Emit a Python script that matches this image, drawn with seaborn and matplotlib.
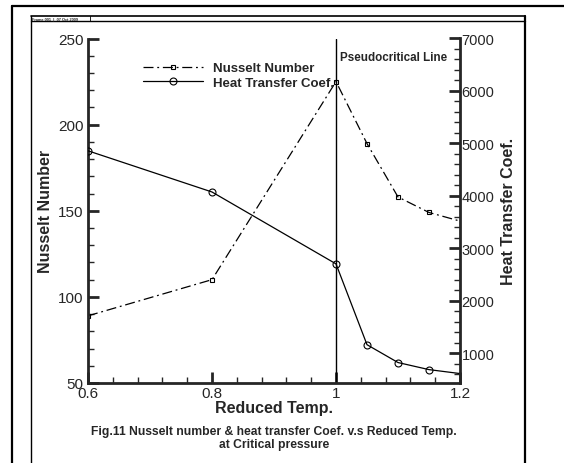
import matplotlib
matplotlib.use("Agg")
import matplotlib.pyplot as plt
from matplotlib.lines import Line2D
from matplotlib.ticker import MultipleLocator
import seaborn as sns
import pandas as pd

sns.set_style("ticks")
plt.rcParams['font.family'] = ['Liberation Sans', 'DejaVu Sans']

reduced_temp = [0.6, 0.8, 1.0, 1.05, 1.1, 1.15, 1.2]
nusselt = [89, 110, 225, 189, 158, 149, 144]
heat_coef = [4860, 4075, 2705, 1165, 825, 690, 615]

df = pd.DataFrame({"Tr": reduced_temp, "Nu": nusselt, "h": heat_coef})
marked = list(range(len(reduced_temp) - 1))

fig = plt.figure(figsize=(5.64, 4.64), dpi=100)
W, H = 564, 464
def fx(x): return x / W
def fy(y): return 1 - y / H

# decorative frames
fig.add_artist(Line2D([fx(12), fx(12)], [fy(7), 0], color='black', lw=1.6, transform=fig.transFigure))
fig.add_artist(Line2D([fx(12), 1], [fy(7), fy(7)], color='black', lw=1.6, transform=fig.transFigure))
fig.add_artist(Line2D([fx(31), fx(31)], [fy(17), 0], color='black', lw=1.0, transform=fig.transFigure))
fig.add_artist(Line2D([fx(525), fx(525)], [fy(17), 0], color='black', lw=1.6, transform=fig.transFigure))
fig.add_artist(Line2D([fx(31), fx(525)], [fy(17), fy(17)], color='black', lw=1.2, transform=fig.transFigure))
fig.add_artist(Line2D([fx(31), fx(525)], [fy(22), fy(22)], color='black', lw=1.0, transform=fig.transFigure))
fig.add_artist(Line2D([fx(90), fx(90)], [fy(17), fy(22)], color='black', lw=0.6, transform=fig.transFigure))
fig.text(fx(32), fy(19.6), "Frame 001  |  07 Oct 2009", fontsize=2.8, fontweight='bold', va='center', ha='left')

ax = fig.add_axes([fx(88), fy(384), fx(460) - fx(88), fy(39.5) - fy(384)])
ax2 = ax.twinx()

dashdot = (0, (8, 3, 1.5, 3))
sns.lineplot(data=df, x="Tr", y="Nu", ax=ax, color='black', lw=0.9,
             marker='s', markersize=3.5, markerfacecolor='none', markeredgecolor='black',
             markeredgewidth=0.8, markevery=marked, linestyle=dashdot, legend=False)
sns.lineplot(data=df, x="Tr", y="h", ax=ax2, color='black', lw=0.9,
             marker='o', markersize=5, markerfacecolor='none', markeredgecolor='black',
             markeredgewidth=0.8, markevery=marked, linestyle='-', legend=False)

ax.axvline(1.0, color='black', lw=1.0)
ax.text(1.006, 239.5, "Pseudocritical Line", fontsize=8.4, fontweight='bold', ha='left', va='center')

ax.set_xlim(0.6, 1.2)
ax.set_ylim(50, 250)
ax2.set_ylim(435, 7000)

ax.xaxis.set_major_locator(MultipleLocator(0.2))
ax.xaxis.set_minor_locator(MultipleLocator(0.04))
ax.yaxis.set_major_locator(MultipleLocator(50))
ax.yaxis.set_minor_locator(MultipleLocator(10))
ax2.yaxis.set_major_locator(MultipleLocator(1000))
ax2.yaxis.set_minor_locator(MultipleLocator(200))
ax.xaxis.set_major_formatter(plt.FuncFormatter(lambda v, p: f"{v:g}"))

for a in (ax, ax2):
    a.spines['top'].set_visible(False)
    for s in a.spines.values():
        s.set_linewidth(2.0)
ax.spines['right'].set_visible(False)
ax2.spines['left'].set_visible(False)
ax2.spines['bottom'].set_visible(False)

ax.tick_params(axis='both', which='major', direction='in', length=8, width=2, labelsize=11, pad=3)
ax.tick_params(axis='both', which='minor', direction='in', length=4, width=1)
ax2.tick_params(axis='y', which='major', direction='in', length=8, width=2, labelsize=10.5, pad=1)
ax2.tick_params(axis='y', which='minor', direction='in', length=4, width=1)
ax.tick_params(axis='x', pad=2)

ax.set_xlabel("Reduced Temp.", fontsize=11.5, fontweight='bold', labelpad=0)
ax.set_ylabel("Nusselt Number", fontsize=11.5, fontweight='bold', labelpad=4)
ax2.set_ylabel("Heat Transfer Coef.", fontsize=11.5, fontweight='bold', labelpad=5)

h1 = Line2D([], [], color='black', lw=0.9, marker='s', markersize=3.5, markerfacecolor='none',
            markeredgewidth=0.8, linestyle=dashdot)
h2 = Line2D([], [], color='black', lw=0.9, marker='o', markersize=5, markerfacecolor='none',
            markeredgewidth=0.8, linestyle='-')
fig.legend([h1, h2], ["Nusselt Number", "Heat Transfer Coef."],
           loc='upper left', bbox_to_anchor=(fx(134), fy(54)), frameon=False,
           prop={'size': 9.5, 'weight': 'bold'}, handlelength=4.5, handletextpad=0.75,
           labelspacing=0.15, borderpad=0.2, markerscale=1.0)

fig.text(fx(274), fy(432), "Fig.11 Nusselt number & heat transfer Coef. v.s Reduced Temp.",
         fontsize=8.7, fontweight='bold', ha='center', va='center')
fig.text(fx(274), fy(445), "at Critical pressure",
         fontsize=8.7, fontweight='bold', ha='center', va='center')

fig.savefig("out.png", dpi=100)
